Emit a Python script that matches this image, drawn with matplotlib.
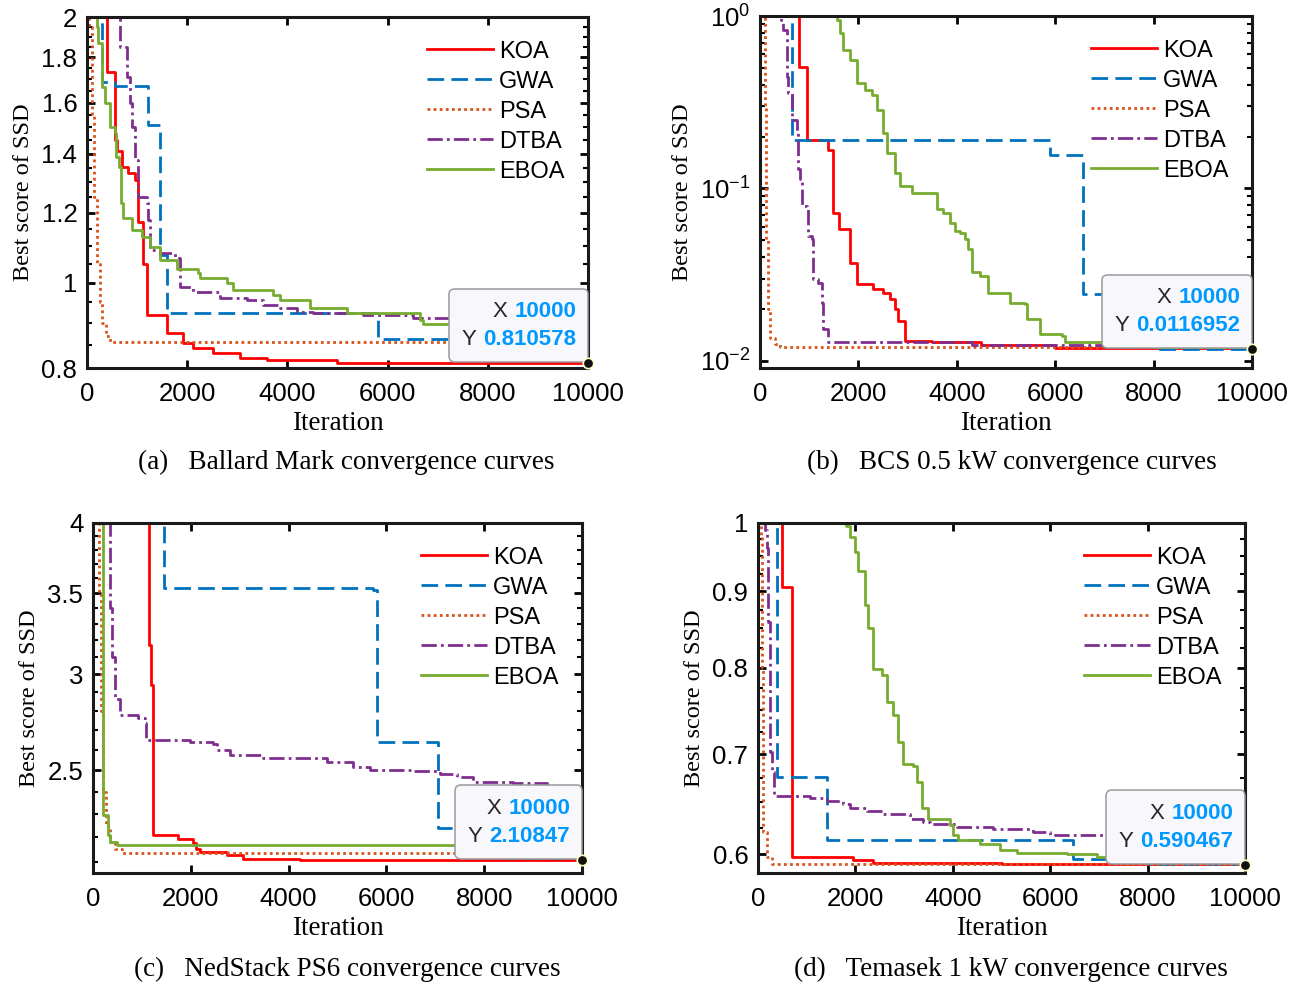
import numpy as np
import matplotlib
matplotlib.use("Agg")
import matplotlib.pyplot as plt
from matplotlib.ticker import FixedLocator, FuncFormatter, NullFormatter, LogLocator
from matplotlib.offsetbox import TextArea, HPacker, VPacker, AnnotationBbox

plt.rcParams['font.family'] = 'Liberation Sans'
plt.rcParams['mathtext.fontset'] = 'custom'
plt.rcParams['mathtext.rm'] = 'Liberation Sans'
plt.rcParams['mathtext.it'] = 'Liberation Sans:italic'

# -----------------------------
# Data: (iteration, best SSD) breakpoints
# -----------------------------
names = ["KOA", "GWA", "PSA", "DTBA", "EBOA"]

# (a) Ballard Mark
A_KOA = [(1, 2.6), (393, 1.734), (559, 1.45), (600, 1.41), (692, 1.353), (825, 1.33), (958, 1.307),
         (1024, 1.172), (1124, 1.05), (1190, 0.919), (1603, 0.877), (1923, 0.853), (2123, 0.842),
         (2522, 0.833), (3054, 0.821), (3587, 0.816), (4984, 0.8115), (10000, 0.810578)]
A_GWA = [(1, 2.6), (293, 1.69), (560, 1.67), (1224, 1.509), (1457, 1.075), (1603, 0.923),
         (5815, 0.862), (10000, 0.862)]
A_PSA = [(1, 2.6), (50, 1.95), (100, 1.55), (150, 1.25), (200, 1.05), (250, 0.95), (300, 0.90),
         (380, 0.87), (460, 0.857), (10000, 0.855)]
A_DTBA = [(1, 2.6), (659, 1.851), (792, 1.712), (850, 1.60), (892, 1.502), (958, 1.377), (1024, 1.251),
          (1190, 1.230), (1224, 1.177), (1257, 1.089), (1457, 1.080), (1756, 1.065), (1856, 0.989),
          (2123, 0.976), (2655, 0.960), (3188, 0.955), (3521, 0.943), (3853, 0.935), (4186, 0.927),
          (4519, 0.923), (5517, 0.919), (6516, 0.911), (7314, 0.907), (10000, 0.905)]
A_EBOA = [(1, 2.6), (193, 1.95), (226, 1.867), (293, 1.667), (359, 1.597), (459, 1.502), (559, 1.476),
          (579, 1.389), (645, 1.353), (672, 1.230), (725, 1.183), (892, 1.147), (1091, 1.127),
          (1257, 1.098), (1457, 1.061), (1790, 1.037), (2222, 1.024), (2255, 1.011), (2788, 0.998),
          (2921, 0.981), (3720, 0.968), (3853, 0.955), (4451, 0.935), (5184, 0.923), (6647, 0.907),
          (6713, 0.898), (8500, 0.890), (10000, 0.885)]

# (b) BCS 0.5 kW
B_KOA = [(1, 2.0), (800, 0.509), (949, 0.192), (1389, 0.168), (1491, 0.0723), (1613, 0.058),
         (1830, 0.0372), (1966, 0.0279), (2304, 0.0261), (2507, 0.0249), (2643, 0.0228), (2744, 0.0200),
         (2812, 0.0171), (2948, 0.0131), (3490, 0.0128), (4500, 0.0123), (6000, 0.0119), (10000, 0.0116952)]
B_GWA = [(1, 2.0), (644, 0.192), (5896, 0.157), (6573, 0.0244), (8000, 0.0118), (10000, 0.0117)]
B_PSA = [(1, 2.0), (100, 0.3), (130, 0.05), (160, 0.02), (200, 0.0135), (300, 0.0125), (407, 0.0121),
         (10000, 0.0117)]
B_DTBA = [(1, 2.0), (420, 0.95), (474, 0.830), (542, 0.446), (576, 0.357), (644, 0.251), (746, 0.210),
          (780, 0.129), (813, 0.113), (847, 0.079), (949, 0.0756), (983, 0.053), (1050, 0.0507),
          (1084, 0.0298), (1186, 0.0284), (1254, 0.0218), (1288, 0.0153), (1389, 0.0128), (4300, 0.0124),
          (7000, 0.0120), (10000, 0.0117)]
B_EBOA = [(1, 2.0), (1559, 0.95), (1627, 0.794), (1694, 0.636), (1830, 0.557), (1966, 0.408),
          (2135, 0.373), (2270, 0.349), (2372, 0.286), (2507, 0.210), (2575, 0.161), (2744, 0.123),
          (2846, 0.103), (3084, 0.0944), (3592, 0.0756), (3727, 0.0723), (3863, 0.0633), (3965, 0.0566),
          (4067, 0.0553), (4168, 0.0507), (4235, 0.0444), (4303, 0.0326), (4473, 0.0312), (4642, 0.0249),
          (5083, 0.0218), (5388, 0.0214), (5422, 0.0175), (5693, 0.0143), (6134, 0.0140), (6202, 0.0128),
          (8000, 0.0120), (10000, 0.0117)]

# (c) NedStack PS6
C_KOA = [(1, 5.0), (1152, 3.172), (1190, 2.939), (1234, 2.209), (1745, 2.195), (2051, 2.175),
         (2100, 2.154), (2188, 2.140), (2734, 2.127), (3074, 2.113), (4233, 2.109), (10000, 2.10847)]
C_GWA = [(1, 5.0), (1452, 3.532), (5732, 3.52), (5801, 2.638), (7062, 2.238), (8500, 2.115),
         (10000, 2.115)]
C_PSA = [(1, 5.0), (100, 4.2), (130, 3.5), (160, 2.8), (200, 2.4), (260, 2.25), (340, 2.18),
         (450, 2.15), (600, 2.137), (1000, 2.134), (10000, 2.133)]
C_DTBA = [(1, 5.0), (348, 3.401), (380, 3.1), (450, 2.865), (552, 2.776), (927, 2.76), (1063, 2.733),
          (1080, 2.647), (1984, 2.638), (2460, 2.63), (2528, 2.597), (2802, 2.572), (3483, 2.56),
          (4779, 2.540), (5324, 2.516), (5665, 2.50), (6551, 2.495), (7096, 2.484), (7437, 2.468),
          (7778, 2.445), (8596, 2.44), (9278, 2.422), (10000, 2.414)]
C_EBOA = [(1, 5.0), (211, 2.295), (300, 2.209), (348, 2.182), (484, 2.168), (10000, 2.165)]

# (d) Temasek 1 kW
D_KOA = [(1, 1.5), (486, 0.906), (692, 0.5976), (1957, 0.5944), (2368, 0.592), (5000, 0.591),
         (10000, 0.590467)]
D_GWA = [(1, 1.5), (397, 0.676), (1423, 0.613), (6474, 0.596), (8000, 0.5908), (10000, 0.5905)]
D_PSA = [(1, 1.5), (62, 0.98), (80, 0.8), (109, 0.621), (178, 0.598), (281, 0.591), (10000, 0.5906)]
D_DTBA = [(1, 1.5), (144, 0.99), (180, 0.962), (212, 0.859), (246, 0.703), (281, 0.681), (328, 0.656),
          (1068, 0.654), (1410, 0.651), (1752, 0.648), (1889, 0.644), (2231, 0.641), (2573, 0.639),
          (3121, 0.634), (3394, 0.631), (3531, 0.629), (4079, 0.626), (4831, 0.624), (5652, 0.621),
          (5994, 0.618), (10000, 0.616)]
D_EBOA = [(1, 1.5), (1807, 0.995), (1889, 0.979), (1991, 0.957), (2060, 0.928), (2197, 0.881),
          (2265, 0.850), (2368, 0.799), (2539, 0.791), (2642, 0.759), (2778, 0.744), (2881, 0.714),
          (2984, 0.690), (3189, 0.688), (3258, 0.671), (3361, 0.644), (3497, 0.634), (3942, 0.628),
          (4010, 0.618), (4112, 0.613), (4558, 0.610), (4969, 0.604), (5311, 0.601), (6338, 0.600),
          (6954, 0.598), (10000, 0.596)]

tip_values = ["0.810578", "0.0116952", "2.10847", "0.590467"]
tip_y = [0.810578, 0.0116952, 2.10847, 0.590467]
captions = ["(a)   Ballard Mark convergence curves", "(b)   BCS 0.5 kW convergence curves",
            "(c)   NedStack PS6 convergence curves", "(d)   Temasek 1 kW convergence curves"]

# -----------------------------
# Styles
# -----------------------------
colors = ['#FF0000', '#0072BD', '#D95319', '#7E2F8E', '#77AC30']
dashes = [None, (6, 2.6), (1, 1.2), (5.5, 1.5, 1, 1.5), None]

panels = [
    dict(data=[A_KOA, A_GWA, A_PSA, A_DTBA, A_EBOA], ylim=(0.8, 2.0),
         yticks=[0.8, 1, 1.2, 1.4, 1.6, 1.8, 2], minor=0.05,
         pos=[0.0666, 0.626, 0.3836, 0.3567]),
    dict(data=[B_KOA, B_GWA, B_PSA, B_DTBA, B_EBOA], ylim=(0.0091, 1.0),
         yticks=None, minor=None,
         pos=[0.582, 0.626, 0.3767, 0.3577]),
    dict(data=[C_KOA, C_GWA, C_PSA, C_DTBA, C_EBOA], ylim=(2.056, 4.0),
         yticks=[2.5, 3, 3.5, 4], minor=0.1,
         pos=[0.0712, 0.1128, 0.3744, 0.3557]),
    dict(data=[D_KOA, D_GWA, D_PSA, D_DTBA, D_EBOA], ylim=(0.583, 1.0),
         yticks=[0.6, 0.7, 0.8, 0.9, 1], minor=0.025,
         pos=[0.5804, 0.1128, 0.3729, 0.3557]),
]
cap_x = [0.2655, 0.7745, 0.2657, 0.7741]
cap_y = [0.5305, 0.5305, 0.0153, 0.0153]


def datatip(ax, x, y, ytxt):
    rows = []
    for lab, val in (("X", "10000"), ("Y", ytxt)):
        rows.append(HPacker(children=[
            TextArea(lab, textprops=dict(color='#262626', size=16)),
            TextArea(val, textprops=dict(color='#0099FF', size=16, weight='bold'))],
            align='baseline', pad=0, sep=5))
    box = VPacker(children=rows, align='right', pad=0, sep=5)
    ab = AnnotationBbox(box, (x, y), xybox=(-8.5, 9.5), xycoords='data', boxcoords='offset points',
                        box_alignment=(1, 0), frameon=True, fontsize=16,
                        bboxprops=dict(boxstyle='round,pad=0.55,rounding_size=0.25',
                                       facecolor='#F8F8FC', edgecolor='#9A9A9A', linewidth=1.1),
                        zorder=5)
    ax.add_artist(ab)
    ax.plot([x], [y], 'o', ms=7.5, mfc='#111111', mec='#FFFFCC', mew=1.2, clip_on=False, zorder=6)


fig = plt.figure(figsize=(13.06, 9.84), dpi=100)

for i, p in enumerate(panels):
    ax = fig.add_axes(p['pos'])
    for name, col, ds, d in zip(names, colors, dashes, p['data']):
        it = np.array([q[0] for q in d])
        val = np.array([q[1] for q in d])
        line, = ax.step(it, val, where='post', color=col, lw=2.0, label=name)
        if ds is not None:
            line.set_dashes(ds)
    ax.set_yscale('log')
    ax.set_xlim(0, 10000)
    ax.set_ylim(*p['ylim'])
    ax.set_xticks([0, 2000, 4000, 6000, 8000, 10000])
    if p['yticks'] is not None:
        ax.yaxis.set_major_locator(FixedLocator(p['yticks']))
        ax.yaxis.set_major_formatter(FuncFormatter(lambda v, pos: '%g' % v))
        lo, hi = p['ylim']
        mt = np.arange(np.ceil(lo / p['minor']) * p['minor'], hi + 1e-9, p['minor'])
        ax.yaxis.set_minor_locator(FixedLocator(mt))
        ax.yaxis.set_minor_formatter(NullFormatter())
    else:
        ax.yaxis.set_major_locator(LogLocator(base=10, numticks=10))
        ax.yaxis.set_minor_locator(LogLocator(base=10, subs=np.arange(2, 10), numticks=10))
        ax.yaxis.set_minor_formatter(NullFormatter())

    ax.tick_params(which='both', direction='in', top=True, right=True, labelsize=18.5)
    ax.tick_params(axis='x', pad=10)
    ax.tick_params(axis='y', pad=7)
    ax.tick_params(which='major', length=6, width=2)
    ax.tick_params(which='minor', length=3.5, width=1.5)
    for s in ax.spines.values():
        s.set_linewidth(2.2)
        s.set_color('#1a1a1a')

    ax.set_xlabel("Iteration", family='Liberation Serif', fontsize=19.5, labelpad=4)
    ax.set_ylabel("Best score of SSD", family='Liberation Serif', fontsize=17.5, labelpad=5)

    ax.legend(loc='upper right', frameon=False, fontsize=17, handlelength=2.8,
              handletextpad=0.25, labelspacing=0.34, borderaxespad=0.6)

    datatip(ax, 10000, tip_y[i], tip_values[i])

    fig.text(cap_x[i], cap_y[i], captions[i], family='Liberation Serif', fontsize=19.5,
             ha='center', va='center')

fig.savefig("out.png", dpi=100)
